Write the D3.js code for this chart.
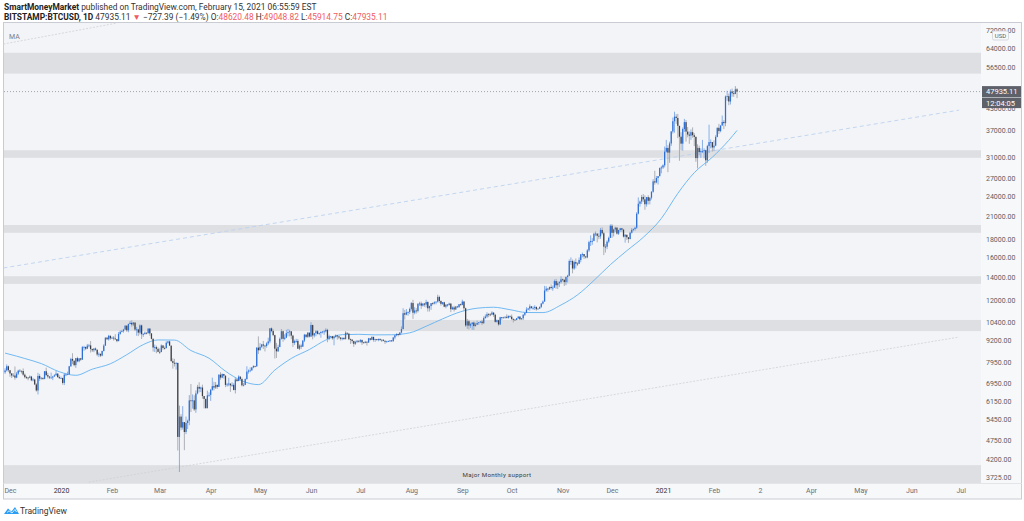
<!DOCTYPE html>
<html><head><meta charset="utf-8">
<script src="https://cdn.jsdelivr.net/npm/d3@7"></script>
<style>
html,body{margin:0;padding:0;background:#fff;}
svg{display:block;font-family:Roboto,"Open Sans",sans-serif;}
</style></head><body>
<svg id="c" width="1024" height="521"></svg>
<script>
// ---------- DATA ----------
const startDay = [2019, 10, 28]; // 2019-11-28, daily candles
const firstOpen = 7460;
const closes = [
7550,7760,7560,
7400,7300,7300,7200,7390,7540,7510,7520,7340,7220,7200,7190,7250,7070,7110,6880,6610,7280,7150,7190,7140,7510,7320,7250,7200,7200,7250,7310,7390,7220,7170,
7180,6950,7340,7350,7360,7760,8150,8050,7820,8190,8020,8180,8110,8810,8820,8720,8900,8910,8700,8630,8730,8660,8390,8430,8330,8590,8900,9380,9280,9500,9340,
9380,9330,9290,9170,9620,9750,9800,9900,10160,9850,10270,10350,10240,10370,9900,9910,9700,10180,9600,9610,9690,9660,9960,9650,9310,8790,8810,8710,8540,
8530,8910,8760,8750,9070,9150,8900,8030,7940,7900,7930,4860,5560,5170,5360,5020,5330,5410,6190,6180,6190,5830,6480,6770,6690,6740,6370,6250,5880,6400,6420,
6640,6800,6740,6860,6770,7340,7200,7370,7290,6860,6880,6920,6840,6860,6630,7110,7040,7250,7130,6840,6860,7130,7490,7540,7550,7700,7780,7760,8780,8630,
8830,8970,8900,8880,9030,9150,9980,9800,9540,8720,8570,8820,9310,9790,9310,9380,9670,9730,9780,9510,9060,9170,9180,8720,8900,8840,9200,9570,9430,9700,9450,
10200,9520,9660,9790,9620,9670,9750,9770,9780,9880,9320,9470,9470,9340,9430,9520,9460,9390,9310,9360,9290,9690,9630,9290,9260,9170,9010,9120,9190,9140,
9230,9090,9060,9130,9080,9340,9250,9430,9240,9290,9240,9300,9240,9250,9190,9130,9150,9170,9210,9160,9390,9530,9610,9550,9710,9930,11030,10930,11100,11110,11350,
11800,11070,11230,11190,11750,11770,11600,11760,11680,11880,11400,11570,11790,11770,11860,11910,12290,11960,11740,11860,11520,11680,11650,11760,11330,11460,11310,11530,11480,11710,11660,
11920,11400,10170,10460,10160,10260,10370,10130,10230,10340,10390,10440,10330,10680,10790,10960,10940,10930,11080,10920,10420,10530,10240,10740,10690,10730,10770,10700,10840,10780,
10620,10570,10550,10670,10790,10600,10670,10920,11060,11300,11380,11540,11430,11430,11500,11330,11370,11510,11760,11920,12820,12980,12930,13130,13040,13070,13650,13280,13460,13560,13810,
13760,13560,14030,14150,15590,15590,14840,15480,15330,15310,15700,16290,16330,16070,15970,16730,17670,17800,17820,18680,18710,18430,18370,19160,18740,17150,17140,17730,18180,19700,
18800,19230,19450,18700,19150,19370,19190,18330,18550,18250,18040,18810,19170,19270,19440,21350,22800,23130,23840,23470,22720,23810,23240,23730,24680,26440,26250,27030,27360,28880,28990,
29400,32200,33000,31990,33990,36800,39400,40600,40240,38200,35550,33950,37400,39150,36770,36050,35800,36630,35900,35500,30850,33000,32100,32300,32300,32500,30400,33400,34300,34300,33100,
33500,35500,37700,36900,38300,39200,38900,46400,46500,44900,48000,47400,47200,48662,47935
];
const highs = [
7660,7860,7800,
7560,7420,7410,7750,7480,7580,7620,7560,7650,7400,7280,7230,7300,7280,7190,7140,6940,7430,7380,7220,7190,7520,7690,7430,7270,7440,7280,7360,7520,7420,7310,
7250,7200,7410,7400,7490,7780,8210,8460,8060,8200,8270,8190,8200,8880,8890,8840,9000,9000,9170,8720,8750,8790,8670,8510,8430,8600,8980,9400,9430,9560,9510,
9450,9480,9600,9300,9740,9850,9880,9950,10180,10180,10300,10480,10520,10400,10380,10070,9950,10250,10230,9670,9770,9710,9990,10000,9660,9340,8960,8900,8800,
8740,8970,8920,8850,9160,9170,9200,8900,8180,8150,7980,7960,5980,5650,5960,5360,5560,5450,6410,6900,6440,6400,6610,6860,6980,6780,6870,6290,6260,6600,6530,
6680,7200,7000,6990,6870,7360,7460,7400,7380,7300,6950,7190,6920,6980,6940,7190,7150,7310,7250,7200,6950,7160,7760,7600,7700,7720,7800,7780,8810,9460,
9050,9000,9180,8950,9100,9380,10000,10040,9920,9560,9060,8950,9390,9930,9840,9590,9880,9940,9890,9800,9560,9260,9310,9300,8970,9010,9230,9620,9600,9730,9700,
10390,10230,9680,9870,9860,9710,9780,9800,9880,9980,9950,9570,9490,9490,9500,9590,9560,9490,9400,9400,9420,9790,9700,9680,9330,9290,9200,9190,9230,9200,
9300,9270,9130,9180,9150,9370,9360,9460,9440,9310,9300,9330,9340,9280,9280,9210,9190,9200,9230,9220,9430,9550,9660,9640,9730,10110,11400,11270,11340,11170,11450,
11880,12060,11480,11410,11780,11900,11910,11790,11810,12060,11940,11600,11800,11860,11940,11930,12470,12400,12020,11880,11900,11690,11720,11830,11780,11540,11590,11570,11590,11720,11760,
12070,11950,11450,10620,10560,10350,10390,10450,10360,10500,10400,10470,10560,10800,10940,11100,11040,11040,11180,11060,10990,10580,10560,10770,10760,10770,10810,10950,10860,10850,
10940,10660,10600,10690,10800,10800,10680,10960,11100,11480,11430,11700,11560,11550,11630,11540,11400,11520,11810,12000,13220,13190,13030,13160,13350,13250,13790,13850,13630,13650,14080,
13880,13830,14070,14240,15760,15970,15750,15650,15860,15460,15970,16340,16490,16330,16140,16880,17840,18470,18150,18800,18970,18700,18760,19420,19480,18920,17450,17890,18330,19880,
19920,19300,19570,19520,19180,19420,19410,19290,18640,18580,18280,18940,19400,19350,19570,21560,23770,23280,24170,24300,24100,23840,24110,23800,24770,26830,28360,27400,27390,28990,29290,
29600,33300,34800,33600,34400,36900,40350,41950,41300,41350,38200,36600,37800,40000,39700,37900,36800,37300,37800,36400,35600,33800,33500,32900,34800,32900,32600,33700,38500,34900,34300,
34700,35900,37800,38700,38300,40900,39700,46700,48200,47300,48600,48900,48100,49700,49049
];
const lows = [
7380,7500,7470,
7240,7180,7240,7100,7170,7320,7480,7400,7280,7160,7130,7070,7170,7030,7020,6850,6560,6440,7040,7100,7090,7120,7270,7160,7130,7160,7080,7250,7290,7200,7140,
7150,6870,6850,7270,7340,7350,7730,7870,7760,7680,7970,7970,8040,8100,8600,8640,8700,8800,8500,8530,8520,8600,8300,8250,8250,8290,8560,8880,9250,9200,9240,
9300,9200,9240,9100,9160,9560,9720,9700,9880,9750,9720,10260,10090,10130,9800,9500,9480,9580,9300,9430,9570,9590,9650,9500,9270,8560,8530,8460,8520,
8420,8520,8660,8670,8750,9010,8880,8000,7640,7750,7590,4440,3850,5080,5100,4450,4950,5120,5250,5730,5860,5770,5700,6440,6530,6540,6260,5870,5860,5870,6340,
6170,6600,6610,6680,6680,6770,7100,7170,7150,6760,6780,6800,6550,6770,6620,6480,7000,7030,7070,6790,6790,6850,7100,7390,7460,7540,7660,7700,7730,8420,
8620,8760,8700,8560,8780,8930,9040,9720,9470,8170,8200,8530,8800,9260,9130,9230,9350,9470,9460,9290,8820,8940,9080,8710,8640,8700,8820,9110,9350,9370,9390,
9420,9280,9400,9470,9580,9540,9380,9650,9560,9710,9100,9230,9380,9250,8920,9380,9260,9290,9200,9220,9260,9280,9580,9230,9000,9030,8830,8940,9050,9080,
9070,8940,9040,9040,8900,9070,9200,9230,9140,9120,9190,9160,9180,9120,9160,9000,9090,9120,9110,9130,9150,9280,9470,9460,9530,9650,9920,10580,10880,10850,10970,
11220,10630,10950,11000,11090,11580,11350,11530,11510,11460,11150,11160,11280,11630,11700,11700,11830,11820,11600,11660,11480,11400,11520,11600,11110,11280,11160,11280,11450,11450,11570,
11630,11200,10070,9950,9900,10010,9880,9870,10100,10200,10210,10330,10200,10270,10640,10680,10750,10820,10890,10770,10360,10360,10150,10210,10560,10660,10640,10660,10640,10700,
10530,10380,10520,10530,10620,10540,10560,10540,10830,11040,11260,11220,11350,11280,11270,11220,11320,11350,11420,11700,11900,12720,12720,12880,12910,12800,13060,12980,12950,13120,13430,
13630,13210,13290,13530,14090,15200,14370,14710,14850,15090,15280,15460,15980,15800,15850,15880,16560,17220,17360,17780,18380,17650,18020,18070,18580,16220,16490,16870,17550,18180,
18180,18350,18920,18580,18530,18930,18920,18210,17620,17940,17580,18000,18710,19000,19060,19280,21230,22370,22760,23060,21900,22360,22680,22700,23430,24520,25860,26100,25890,27350,27890,
28700,29000,32000,28100,29900,33440,36300,36500,38720,35200,30300,32500,32400,36700,34400,35400,33900,34800,35300,33400,30100,28800,31400,30900,31900,30800,29300,29900,31900,32900,32200,
32300,33400,35400,36200,36600,38200,37400,38100,45100,43800,44000,46300,46300,47100,45915
];
// 50-day moving average
const maDates = ["2019-11-28","2019-12-05","2019-12-10","2019-12-20","2019-12-31","2020-01-10","2020-01-20","2020-01-31","2020-02-10","2020-02-20","2020-02-29","2020-03-10","2020-03-20","2020-03-31","2020-04-10","2020-04-20","2020-04-30","2020-05-10","2020-05-20","2020-05-31","2020-06-10","2020-06-20","2020-06-30","2020-07-10","2020-07-20","2020-07-31","2020-08-10","2020-08-20","2020-08-31","2020-09-10","2020-09-20","2020-09-30","2020-10-10","2020-10-20","2020-10-31","2020-11-10","2020-11-20","2020-11-30","2020-12-10","2020-12-20","2020-12-31","2021-01-10","2021-01-20","2021-01-31","2021-02-10","2021-02-15"];
const maValues = [8470,8300,8170,7900,7484,7310,7612,7890,8380,8960,9240,9233,8614,8187,7511,7047,6872,7568,8174,8672,9235,9572,9592,9557,9563,9686,10119,10626,11140,11405,11477,11292,11084,11078,11651,12455,13707,15218,16695,18243,20677,24412,28000,31030,34706,37052];
// horizontal support / resistance zones [low, high]
const zoneLows  = [54000, 30900, 18800, 13400, 9800, 3000];
const zoneHighs = [62000, 32500, 19800, 14100, 10550, 4030];
// trend lines: [date, price] -> [date, price]
const trendBlue = [["2019-11-27",14890],["2021-06-30",42400]];
const trendGray = [["2020-01-18",3600],["2021-06-30",9420]];
const trendTop  = [["2019-11-27",65700],["2020-02-04",75500]];
// axes
const yTicks = [72000,64000,56500,43000,37000,31000,27000,24000,21000,18000,16000,14000,12000,10400,9200,7950,6950,6150,5450,4750,4200,3725];
const xTickDates = ["2019-12-01","2020-01-01","2020-02-01","2020-03-01","2020-04-01","2020-05-01","2020-06-01","2020-07-01","2020-08-01","2020-09-01","2020-10-01","2020-11-01","2020-12-01","2021-01-01","2021-02-01","2021-03-01","2021-04-01","2021-05-01","2021-06-01","2021-07-01"];
const xTickLabels = ["Dec","2020","Feb","Mar","Apr","May","Jun","Jul","Aug","Sep","Oct","Nov","Dec","2021","Feb","2","Apr","May","Jun","Jul"];
const lastPrice = 47935.11;

// ---------- LAYOUT ----------
const svg = d3.select("#c");
const P = {l:4, r:981, t:23, b:483};
const parse = s => { const [a,b,c] = s.split("-").map(Number); return new Date(Date.UTC(a,b-1,c)); };
const x = d3.scaleUtc().domain([new Date(Date.UTC(2020,0,1)), new Date(Date.UTC(2021,0,1))]).range([61,663]);
const y = d3.scaleLog().domain([3725, 64000]).range([477, 48]);

// frame
svg.append("rect").attr("x",3.5).attr("y",22.5).attr("width",1018).attr("height",476.5)
  .attr("fill","#f7f8fa").attr("stroke","#c9ccd3").attr("stroke-width",1);
svg.append("rect").attr("x",P.l).attr("y",P.t).attr("width",P.r-P.l).attr("height",P.b-P.t).attr("fill","#f3f4f7");

const defs = svg.append("defs");
defs.append("clipPath").attr("id","clip").append("rect").attr("x",P.l).attr("y",P.t).attr("width",P.r-P.l).attr("height",P.b-P.t);
const g = svg.append("g").attr("clip-path","url(#clip)");

// zones
g.selectAll("rect.zone").data(zoneLows.map((lo,i)=>[lo,zoneHighs[i]])).join("rect")
  .attr("class","zone").attr("x",P.l).attr("width",P.r-P.l)
  .attr("y",d=>y(d[1])).attr("height",d=>y(d[0])-y(d[1])).attr("fill","#dedfe2");

g.append("text").attr("x",497).attr("y",477).attr("text-anchor","middle")
  .attr("font-size",6.2).attr("fill","#3a3d44").attr("letter-spacing",0.3).text("Major Monthly  support");

// trend lines
function tl(pts, color, dash, w){
  g.append("line").attr("x1",x(parse(pts[0][0]))).attr("y1",y(pts[0][1]))
   .attr("x2",x(parse(pts[1][0]))).attr("y2",y(pts[1][1]))
   .attr("stroke",color).attr("stroke-width",w).attr("stroke-dasharray",dash);
}
tl(trendBlue,"#bcd3ee","4,3",0.9);
tl(trendGray,"#cfd1d6","2,1.5",0.8);
tl(trendTop,"#cfd1d6","2,1.5",0.8);

// MA
g.append("path").datum(maDates.map((d,i)=>[parse(d),maValues[i]]))
  .attr("fill","none").attr("stroke","#62b2f2").attr("stroke-width",0.9)
  .attr("d",d3.line().x(d=>x(d[0])).y(d=>y(d[1])).curve(d3.curveMonotoneX));

// candles
const candles = closes.map((c,i)=>({
  d:new Date(Date.UTC(startDay[0],startDay[1],startDay[2]+i)),
  o: i===0 ? firstOpen : closes[i-1], c, h:highs[i], l:lows[i]
}));
const bw = 1.25;
const cg = g.append("g");
cg.selectAll("line").data(candles).join("line")
  .attr("x1",d=>x(d.d)).attr("x2",d=>x(d.d))
  .attr("y1",d=>y(Math.max(d.h,d.o,d.c))).attr("y2",d=>y(Math.min(d.l,d.o,d.c)))
  .attr("stroke",d=>d.c>=d.o?"#6f9ee3":"#9b9ea4").attr("stroke-width",0.8);
cg.selectAll("rect").data(candles).join("rect")
  .attr("x",d=>x(d.d)-bw/2).attr("width",bw)
  .attr("y",d=>y(Math.max(d.o,d.c)))
  .attr("height",d=>Math.max(0.8, y(Math.min(d.o,d.c))-y(Math.max(d.o,d.c))))
  .attr("fill",d=>d.c>=d.o?"#2d6fd6":"#3d3f44");

// last price line
svg.append("line").attr("x1",P.l).attr("x2",P.r).attr("y1",y(lastPrice)).attr("y2",y(lastPrice))
  .attr("stroke","#8c909a").attr("stroke-width",0.8).attr("stroke-dasharray","1,2");

// MA label
svg.append("text").attr("x",9).attr("y",38.5).attr("font-size",7).attr("fill","#7a7d85").text("MA");

// y axis
const ya = svg.append("g").attr("transform",`translate(${P.r},0)`)
  .call(d3.axisRight(y).tickValues(yTicks).tickSize(0).tickPadding(5).tickFormat(d=>d.toFixed(2)));
ya.select(".domain").remove();
ya.selectAll("text").attr("font-size",7).attr("fill","#5a5e67").attr("font-family","Roboto");

// USD badge
svg.append("rect").attr("x",992.5).attr("y",31).attr("width",16).attr("height",9).attr("rx",1.5)
  .attr("fill","#f7f8fa").attr("stroke","#c9ccd3").attr("stroke-width",0.7);
svg.append("text").attr("x",1000.5).attr("y",38).attr("text-anchor","middle").attr("font-size",6).attr("fill","#5a5e67").text("USD");

// price badges
const py = y(lastPrice);
svg.append("rect").attr("x",P.r+1).attr("y",py-5.5).attr("width",39).attr("height",11).attr("fill","#5e616a");
svg.append("text").attr("x",P.r+5).attr("y",py+2.8).attr("font-size",7.5).attr("fill","#fff").text(lastPrice.toFixed(2));
svg.append("rect").attr("x",P.r+1).attr("y",py+6).attr("width",39).attr("height",10.5).attr("fill","#5e616a");
svg.append("text").attr("x",P.r+5).attr("y",py+14).attr("font-size",7.5).attr("fill","#fff").text("12:04:05");

// x axis
svg.append("line").attr("x1",3.5).attr("x2",1021.5).attr("y1",P.b+0.5).attr("y2",P.b+0.5).attr("stroke","#e3e5e9");
const xa = svg.append("g").attr("transform",`translate(0,${P.b})`)
  .call(d3.axisBottom(x).tickValues(xTickDates.map(parse)).tickSize(0).tickPadding(5).tickFormat((d,i)=>xTickLabels[i]));
xa.select(".domain").remove();
xa.selectAll("text").attr("font-size",7).attr("font-family","Roboto")
  .attr("fill",(d,i)=>/^\d{4}$/.test(xTickLabels[i])?"#2f3239":"#6a6e77");

// header
const h1 = svg.append("text").attr("x",4).attr("y",10).attr("font-size",8.4).attr("fill","#333");
h1.append("tspan").attr("font-weight","bold").attr("fill","#222").text("SmartMoneyMarket");
h1.append("tspan").text(" published on TradingView.com, February 15, 2021 06:55:59 EST");
const red = "#f25a62";
const h2 = svg.append("text").attr("x",4).attr("y",20).attr("font-size",8.4).attr("fill","#333");
h2.append("tspan").attr("font-weight","bold").attr("fill","#222").text("BITSTAMP:BTCUSD, 1D");
h2.append("tspan").text("  47935.11 ");
h2.append("tspan").attr("fill",red).text("▼");
h2.append("tspan").text(" −727.39 (−1.49%) O:");
h2.append("tspan").attr("fill",red).text("48620.48");
h2.append("tspan").text(" H:");
h2.append("tspan").attr("fill",red).text("49048.82");
h2.append("tspan").text(" L:");
h2.append("tspan").attr("fill",red).text("45914.75");
h2.append("tspan").text(" C:");
h2.append("tspan").attr("fill",red).text("47935.11");

// TradingView logo
const lg = svg.append("g").attr("transform","translate(4,506)");
lg.append("path").attr("d","M0,8 L4,2.5 L7.5,5.5 L11,1 L15,8 Z").attr("fill","#2a9df4");
lg.append("path").attr("d","M3,6.5 L5,4.8 L8,7 L11,3.5 L12.5,6").attr("fill","none").attr("stroke","#fff").attr("stroke-width",0.8);
svg.append("text").attr("x",20).attr("y",514).attr("font-size",8.5).attr("fill","#333").text("TradingView");
</script></body></html>
